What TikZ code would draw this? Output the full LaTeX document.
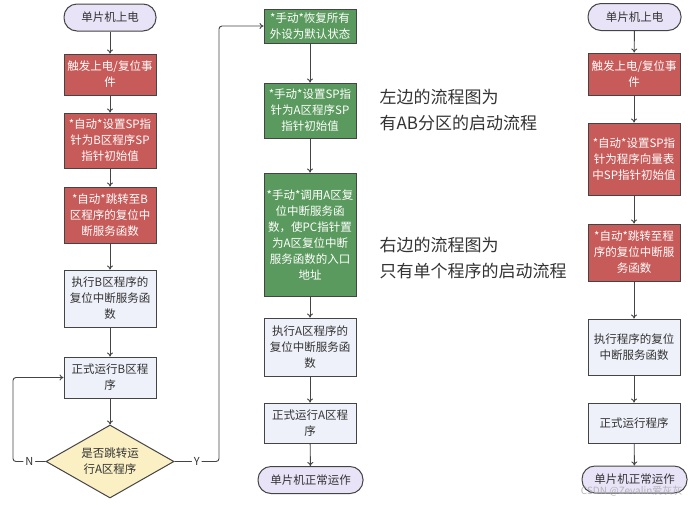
\documentclass[tikz,border=0pt]{standalone}
\usepackage{fontspec}
\setmainfont{Noto Sans CJK SC}
\usetikzlibrary{shapes.geometric,arrows.meta}
\definecolor{redfill}{HTML}{C75B59}
\definecolor{greenfill}{HTML}{5B9A5E}
\definecolor{bluefill}{HTML}{EEF0FA}
\definecolor{yellowfill}{HTML}{FBEFC4}
\definecolor{lavfill}{HTML}{E9E3F8}
\definecolor{edge}{HTML}{444444}
\definecolor{txt}{HTML}{333333}
\tikzset{
  base/.style={draw=edge, line width=1pt, inner sep=0pt, align=center,
    font=\fontsize{11.5}{16}\selectfont, minimum width=92pt},
  redbox/.style={base, fill=redfill, text=white},
  greenbox/.style={base, fill=greenfill, text=white},
  bluebox/.style={base, fill=bluefill, text=txt},
  term/.style={base, fill=lavfill, text=txt, rounded corners=13pt, minimum height=27pt},
  arr/.style={draw=edge, line width=0.9pt, -{To[length=4pt,width=6pt]}},
  lbl/.style={fill=white, text=txt, inner sep=2pt, font=\fontsize{11}{13}\selectfont},
  note/.style={text=txt, anchor=west, align=left, font=\fontsize{17}{26}\selectfont}
}
\begin{document}
\begin{tikzpicture}[x=1pt,y=-1pt]
\useasboundingbox (0,0) rectangle (692,504);
\fill[white] (0,0) rectangle (692,504);
% left column
\node[term, minimum width=92pt] (ls) at (110,17.5) {单片机上电};
\node[redbox, minimum height=41pt] (l1) at (110,74.5) {触发上电/复位事\\件};
\node[redbox, minimum height=55pt] (l2) at (110,140.5) {*自动*设置SP指\\针为B区程序SP\\指针初始值};
\node[redbox, minimum height=56pt] (l3) at (110,215) {*自动*跳转至B\\区程序的复位中\\断服务函数};
\node[bluebox, minimum height=57pt] (l4) at (110,298.5) {执行B区程序的\\复位中断服务函\\数};
\node[bluebox, minimum height=41pt] (l5) at (110,377.5) {正式运行B区程\\序};
\node[diamond, draw=edge, line width=1pt, fill=yellowfill, minimum width=128pt, minimum height=73pt, inner sep=0pt] (dec) at (110,461.5) {};
\node[text=txt, align=center, font=\fontsize{11.5}{16}\selectfont] (dect) at (dec.center) {是否跳转运\\行A区程序};
% middle column
\node[greenbox, minimum height=34pt] (g1) at (310,26) {*手动*恢复所有\\外设为默认状态};
\node[greenbox, minimum height=55pt] (g2) at (310,110.5) {*手动*设置SP指\\针为A区程序SP\\指针初始值};
\node[greenbox, minimum height=123pt] (g3) at (310,234.5) {*手动*调用A区复\\位中断服务函\\数，使PC指针置\\为A区复位中断\\服务函数的入口\\地址};
\node[bluebox, minimum height=58pt] (m4) at (310,347) {执行A区程序的\\复位中断服务函\\数};
\node[bluebox, minimum height=40pt] (m5) at (310,423) {正式运行A区程\\序};
\node[term, minimum width=105pt] (me) at (310.5,480) {单片机正常运作};
% left connectors
\draw[arr] (ls) -- (l1);
\draw[arr] (l1) -- (l2);
\draw[arr] (l2) -- (l3);
\draw[arr] (l3) -- (l4);
\draw[arr] (l4) -- (l5);
\draw[arr] (l5) -- (dec);
\coordinate (ncorner) at (13,461.5);
\coordinate (ycorner) at (219,461.5);
\draw[arr, rounded corners=3pt] (dec.west) -- node[lbl]{N} (ncorner) |- (l5.west);
\draw[arr, rounded corners=3pt] (dec.east) -- node[lbl]{Y} (ycorner) |- (g1.west);
% middle connectors
\draw[arr] (g1) -- (g2);
\draw[arr] (g2) -- (g3);
\draw[arr] (g3) -- (m4);
\draw[arr] (m4) -- (m5);
\draw[arr] (m5) -- (me);
% notes
\node[note] (n1) at (376,110) {左边的流程图为\\有AB分区的启动流程};
\node[note] (n2) at (376,258.5) {右边的流程图为\\只有单个程序的启动流程};
% right column
\node[term, minimum width=93pt] (rs) at (634.5,17) {单片机上电};
\node[redbox, minimum height=42pt] (r1) at (634,74) {触发上电/复位事\\件};
\node[redbox, minimum height=72pt] (r2) at (634,159) {*自动*设置SP指\\针为程序向量表\\中SP指针初始值};
\node[redbox, minimum height=57pt] (r3) at (634,252.5) {*自动*跳转至程\\序的复位中断服\\务函数};
\node[bluebox, minimum height=56pt] (r4) at (634,347) {执行程序的复位\\中断服务函数};
\node[bluebox, minimum height=40pt] (r5) at (634,423) {正式运行程序};
\node[term, minimum width=105pt] (re) at (634.5,479.5) {单片机正常运作};
\draw[arr] (rs) -- (r1);
\draw[arr] (r1) -- (r2);
\draw[arr] (r2) -- (r3);
\draw[arr] (r3) -- (r4);
\draw[arr] (r4) -- (r5);
\draw[arr] (r5) -- (re);
% watermark
\node[text=gray!70, opacity=0.8, anchor=east, font=\fontsize{10}{12}\selectfont] (wm) at (686,491) {CSDN @Zevalin爱灰灰};
\end{tikzpicture}
\end{document}
